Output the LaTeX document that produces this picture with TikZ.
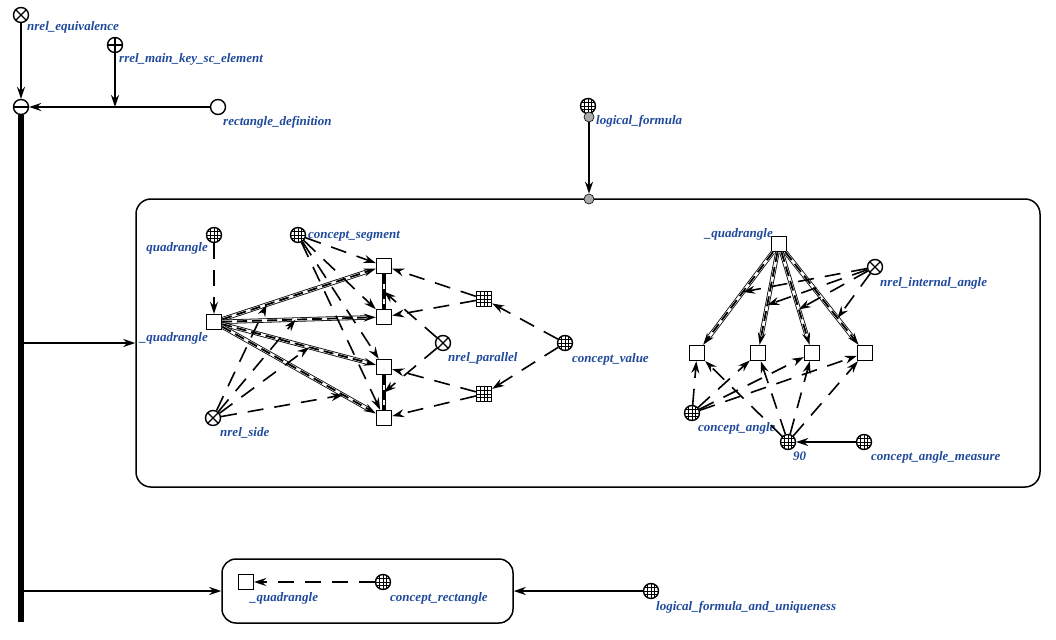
\documentclass[tikz,border=0pt]{standalone}
\usepackage{fontspec}
\setmainfont{Liberation Serif}
\usetikzlibrary{arrows.meta,calc}
\definecolor{lbl}{RGB}{31,73,155}
\definecolor{dotgray}{RGB}{170,170,170}
\tikzset{
  >={Stealth[length=12pt,width=8pt,inset=4pt]},
  nd/.style={draw, line width=1.4pt, inner sep=0pt, minimum size=15pt},
  xnode/.style={nd, circle, path picture={\draw[line width=1.2pt] (path picture bounding box.north west)--(path picture bounding box.south east) (path picture bounding box.north east)--(path picture bounding box.south west);}},
  pnode/.style={nd, circle, path picture={\draw[line width=1.2pt] (path picture bounding box.north)--(path picture bounding box.south) (path picture bounding box.east)--(path picture bounding box.west);}},
  mnode/.style={nd, circle, path picture={\draw[line width=1.2pt] (path picture bounding box.east)--(path picture bounding box.west);}},
  onode/.style={nd, circle},
  gridlines/.style={path picture={\foreach \d in {-3.7,0,3.7}{\draw[line width=0.8pt] ([xshift=\d pt]path picture bounding box.north)--([xshift=\d pt]path picture bounding box.south) ([yshift=\d pt]path picture bounding box.east)--([yshift=\d pt]path picture bounding box.west);}}},
  gcirc/.style={nd, circle, gridlines},
  vsq/.style={nd, rectangle, minimum size=15pt},
  gsq/.style={vsq, gridlines},
  gdot/.style={circle, draw, line width=0.6pt, fill=dotgray, inner sep=0pt, minimum size=10pt},
  lab/.style={font=\bfseries\itshape\fontsize{13}{14}\selectfont, text=lbl, inner sep=0pt},
  ln/.style={line width=1.6pt, ->},
  va/.style={line width=1.6pt, dash pattern=on 16pt off 11pt, ->},
  carc/.style={draw, line width=0.8pt, double distance=2.8pt},
  cdash/.style={line width=1.8pt, dash pattern=on 10pt off 5pt},
  bus/.style={line width=5.5pt},
  boxst/.style={draw, line width=1.5pt, inner sep=0pt}
}
\begin{document}
\begin{tikzpicture}[x=1pt,y=-1pt]
\useasboundingbox (0,0) rectangle (1056,639);
% ---------- top part ----------
\node[xnode] (E) at (21,15) {};
\node[pnode] (K) at (115,45) {};
\node[onode] (R) at (218,107) {};
\node[mnode] (M) at (21,107) {};
\coordinate (J) at (115,107);
\coordinate (busend) at (21,622);
\coordinate (b1) at (21,343);
\coordinate (b2) at (21,591);
\node[lab, anchor=base west] (lE) at (27,31) {nrel\_equivalence};
\node[lab, anchor=base west] (lK) at (119,63) {rrel\_main\_key\_sc\_element};
\node[lab, anchor=base west] (lR) at (223,126) {rectangle\_definition};
% boxes
\node[boxst, rounded corners=15pt, minimum width=904pt, minimum height=288pt] (big) at (588,343) {};
\node[boxst, rounded corners=14pt, minimum width=291pt, minimum height=64pt] (small) at (367.5,591) {};
\draw[ln] (E) -- (M);
\draw[ln] (R) -- (M);
\draw[ln] (K) -- (J);
\draw[ln] (b1) -- (big.west);
\draw[ln] (b2) -- (small.west);
\draw[bus] (M) -- (busend);
% logical formula
\node[gcirc] (LF) at (588,106) {};
\node[gdot] (LFd) at (589,117) {};
\node[gdot] (BT) at (589,199) {};
\node[lab, anchor=base west] (lLF) at (596,125) {logical\_formula};
\draw[ln] (LFd) -- (BT);
% ---------- left cluster ----------
\node[gcirc] (QC) at (214,235) {};
\node[vsq] (Q1) at (214,322) {};
\node[gcirc] (CS) at (298,235) {};
\node[vsq] (S1) at (384,266) {};
\node[vsq] (S2) at (384,317) {};
\node[vsq] (S3) at (384,367) {};
\node[vsq] (S4) at (384,418) {};
\node[xnode] (NS) at (213,418) {};
\node[xnode] (NP) at (443,343) {};
\node[gsq] (G1) at (484,299) {};
\node[gsq] (G2) at (484,394) {};
\node[gcirc] (CV) at (565,343) {};
\node[lab, anchor=base east] (lQC) at (208,251) {quadrangle};
\node[lab, anchor=base east] (lQ1) at (208,341) {\_quadrangle};
\node[lab, anchor=base west] (lCS) at (308,238) {concept\_segment};
\node[lab, anchor=base west] (lNS) at (220,436) {nrel\_side};
\node[lab, anchor=base west] (lNP) at (448,361) {nrel\_parallel};
\node[lab, anchor=base west] (lCV) at (572,362) {concept\_value};
\foreach \s in {S1,S2,S3,S4}{
  \draw[carc, shorten >=10pt] (Q1) -- (\s);
  \draw[cdash, ->] (Q1) -- (\s);
}
\draw[carc] (S1) -- (S2); \draw[cdash] (S1) -- (S2);
\draw[carc] (S3) -- (S4); \draw[cdash] (S3) -- (S4);
\coordinate (t1) at ($(Q1)!0.31!(S1)$);
\coordinate (t2) at ($(Q1)!0.48!(S2)$);
\coordinate (t3) at ($(Q1)!0.56!(S3)$);
\coordinate (t4) at ($(Q1)!0.76!(S4)$);
\coordinate (e1) at ($(S1)!0.5!(S2)$);
\coordinate (e2) at ($(S3)!0.5!(S4)$);
\foreach \t in {t1,t2,t3,t4}{\draw[va] (NS) -- (\t);}
\foreach \s in {S1,S2,S3,S4}{\draw[va] (CS) -- (\s);}
\draw[va] (QC) -- (Q1);
\draw[va] (G1) -- (S1);
\draw[va] (G1) -- (S2);
\draw[va] (G2) -- (S3);
\draw[va] (G2) -- (S4);
\draw[va] (CV) -- (G1);
\draw[va] (CV) -- (G2);
\draw[va] (NP) -- (e1);
\draw[va] (NP) -- (e2);
% ---------- right cluster ----------
\node[vsq] (Q2) at (779,244) {};
\node[xnode] (NIA) at (875,267) {};
\node[vsq] (A1) at (697,353) {};
\node[vsq] (A2) at (758,353) {};
\node[vsq] (A3) at (812,353) {};
\node[vsq] (A4) at (865,353) {};
\node[gcirc] (CA) at (692,413) {};
\node[gcirc] (N90) at (788,442) {};
\node[gcirc] (CAM) at (864,442) {};
\node[lab, anchor=base east] (lQ2) at (773,237) {\_quadrangle};
\node[lab, anchor=base west] (lNIA) at (880,286) {nrel\_internal\_angle};
\node[lab, anchor=base west] (lCA) at (698,431) {concept\_angle};
\node[lab, anchor=base west] (l90) at (793,460) {90};
\node[lab, anchor=base west] (lCAM) at (871,460) {concept\_angle\_measure};
\foreach \s in {A1,A2,A3,A4}{
  \draw[carc, shorten >=10pt] (Q2) -- (\s);
  \draw[cdash, ->] (Q2) -- (\s);
}
\coordinate (u1) at ($(Q2)!0.44!(A1)$);
\coordinate (u2) at ($(Q2)!0.56!(A2)$);
\coordinate (u3) at ($(Q2)!0.60!(A3)$);
\coordinate (u4) at ($(Q2)!0.68!(A4)$);
\foreach \t in {u1,u2,u3,u4}{\draw[va] (NIA) -- (\t);}
\foreach \s in {A1,A2,A3,A4}{\draw[va] (CA) -- (\s); \draw[va] (N90) -- (\s);}
\draw[ln] (CAM) -- (N90);
% ---------- small box ----------
\node[vsq] (SQ) at (246,582) {};
\node[gcirc] (CR) at (383,582) {};
\node[gcirc] (LFU) at (651,591) {};
\node[lab, anchor=base west] (lSQ) at (250,601) {\_quadrangle};
\node[lab, anchor=base west] (lCR) at (390,601) {concept\_rectangle};
\node[lab, anchor=base west] (lLFU) at (656,610) {logical\_formula\_and\_uniqueness};
\draw[va] (CR) -- (SQ);
\draw[ln] (LFU) -- (small.east);
\end{tikzpicture}
\end{document}
